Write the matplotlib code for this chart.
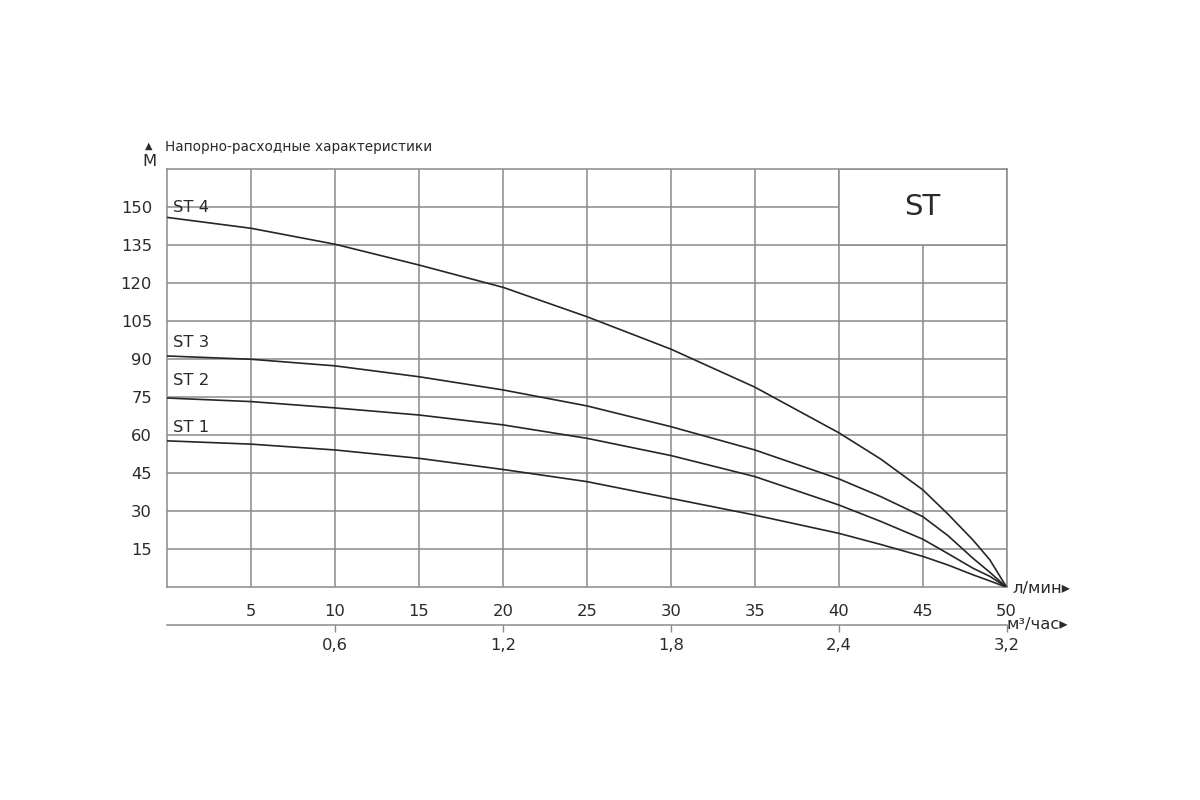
import matplotlib.pyplot as plt
from matplotlib.patches import Rectangle

plt.rcParams['font.family'] = ['DejaVu Sans']

# flow, l/min
flow = [0, 5, 10, 15, 20, 25, 30, 35, 40, 42.5, 45, 46.5, 48, 49, 50]
# head, m
st1 = [57.8, 56.5, 54.2, 50.9, 46.5, 41.7, 35.1, 28.5, 21.3, 16.9, 12.2, 8.8, 4.9, 2.5, 0]
st2 = [74.7, 73.3, 70.8, 68.0, 64.1, 58.8, 52.0, 43.7, 32.5, 26.0, 19.0, 13.3, 7.5, 4.3, 0]
st3 = [91.3, 90.0, 87.4, 83.1, 77.9, 71.6, 63.4, 54.2, 42.8, 35.8, 27.9, 20.4, 11.4, 5.9, 0]
st4 = [146.0, 141.7, 135.4, 127.2, 118.4, 106.8, 94.0, 79.0, 61.0, 50.6, 38.5, 28.9, 18.6, 10.8, 0]
series = [('ST 1', st1, 63), ('ST 2', st2, 81.5), ('ST 3', st3, 96.5), ('ST 4', st4, 150)]

xticks = [5, 10, 15, 20, 25, 30, 35, 40, 45, 50]
yticks = [15, 30, 45, 60, 75, 90, 105, 120, 135, 150]
m3_pos = [10, 20, 30, 40, 50]
m3_labels = ['0,6', '1,2', '1,8', '2,4', '3,2']

grid_c = '#8a8a8a'
line_c = '#262626'
text_c = '#2a2a2a'

fig = plt.figure(figsize=(12, 8), dpi=100)
ax = fig.add_axes([0.1394, 0.2659, 0.6995, 0.5225])
ax.set_xlim(0, 50)
ax.set_ylim(0, 165)

ax.set_xticks(xticks)
ax.set_yticks(yticks)
ax.grid(True, color=grid_c, linewidth=1.1)
ax.set_axisbelow(True)
for s in ax.spines.values():
    s.set_color(grid_c)
    s.set_linewidth(1.1)
ax.tick_params(length=0, labelsize=11.8, colors=text_c, pad=11)
ax.tick_params(axis='x', pad=12)

for name, vals, ly in series:
    ax.plot(flow, vals, color=line_c, linewidth=1.2, zorder=3, solid_joinstyle='round')
    ax.text(0.35, ly, name, fontsize=11.8, color=text_c, va='center', ha='left', zorder=4)

# ST box
ax.add_patch(Rectangle((40, 135), 10, 30, facecolor='white', edgecolor=grid_c,
                       linewidth=1.1, zorder=2.5))
ax.text(45, 150, 'ST', fontsize=21, color=text_c, ha='center', va='center', zorder=4)

# second x axis in m3/h
sec = ax.secondary_xaxis(-0.091)
sec.set_xticks(m3_pos)
sec.set_xticklabels(m3_labels)
sec.spines['bottom'].set_color(grid_c)
sec.spines['bottom'].set_linewidth(1.1)
sec.tick_params(length=5, width=1, color=grid_c, labelsize=11.8, labelcolor=text_c, pad=4)

# axis labels
fig.text(1012 / 1200, 1 - 588 / 800, 'л/мин▸', fontsize=11.8, color=text_c, va='center', ha='left')
fig.text(1007 / 1200, 1 - 624 / 800, 'м³/час▸', fontsize=11.8, color=text_c, va='center', ha='left')
fig.text(149 / 1200, 1 - 146 / 800, '▲', fontsize=7, color=text_c, va='center', ha='center')
fig.text(149 / 1200, 1 - 162 / 800, 'М', fontsize=11.8, color=text_c, va='center', ha='center')
fig.text(165 / 1200, 1 - 147 / 800, 'Напорно-расходные характеристики', fontsize=9.8,
         color=text_c, va='center', ha='left')

fig.savefig('out.png', dpi=100, facecolor='white')
